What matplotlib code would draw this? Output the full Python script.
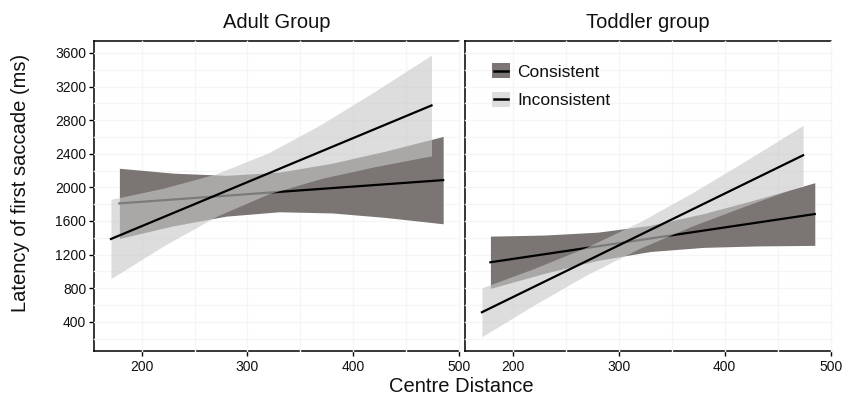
import numpy as np
import matplotlib
matplotlib.use("Agg")
import matplotlib.pyplot as plt
from matplotlib.patches import Patch, Rectangle
from matplotlib.lines import Line2D

plt.rcParams['font.family'] = ['Liberation Sans', 'DejaVu Sans']

# --- data ---
panel_titles = ["Adult Group", "Toddler group"]
series_names = ["Consistent", "Inconsistent"]

# adult, consistent
adult_cons_band_x = [179, 230, 280, 330, 380, 430, 485]
adult_cons_band_hi = [2227, 2169, 2143, 2181, 2287, 2430, 2606]
adult_cons_band_lo = [1391, 1542, 1657, 1709, 1695, 1642, 1566]
adult_cons_line_x = [179, 485]
adult_cons_line_y = [1809, 2086]

# adult, inconsistent
adult_inc_band_x = [171, 220, 270, 320, 370, 420, 474]
adult_inc_band_hi = [1857, 1988, 2159, 2411, 2752, 3139, 3575]
adult_inc_band_lo = [913, 1296, 1651, 1923, 2106, 2245, 2375]
adult_inc_line_x = [171, 474]
adult_inc_line_y = [1385, 2975]

# toddler, consistent
todd_cons_band_x = [179, 230, 280, 330, 380, 430, 485]
todd_cons_band_hi = [1419, 1432, 1466, 1548, 1687, 1856, 2055]
todd_cons_band_lo = [797, 976, 1130, 1236, 1285, 1302, 1309]
todd_cons_line_x = [179, 485]
todd_cons_line_y = [1108, 1682]

# toddler, inconsistent
todd_inc_band_x = [171, 220, 270, 320, 370, 420, 474]
todd_inc_band_hi = [804, 1033, 1289, 1589, 1939, 2317, 2738]
todd_inc_band_lo = [222, 597, 959, 1275, 1543, 1781, 2026]
todd_inc_line_x = [171, 474]
todd_inc_line_y = [513, 2382]

x_ticks = [200, 300, 400, 500]
y_ticks = [400, 800, 1200, 1600, 2000, 2400, 2800, 3200, 3600]

DARK = '#7b7673'
LIGHT = '#c8c8c8'
LIGHT_ALPHA = 0.62
GRID = '#f5f5f5'

panels = [
    (adult_cons_band_x, adult_cons_band_hi, adult_cons_band_lo, adult_cons_line_x, adult_cons_line_y,
     adult_inc_band_x, adult_inc_band_hi, adult_inc_band_lo, adult_inc_line_x, adult_inc_line_y),
    (todd_cons_band_x, todd_cons_band_hi, todd_cons_band_lo, todd_cons_line_x, todd_cons_line_y,
     todd_inc_band_x, todd_inc_band_hi, todd_inc_band_lo, todd_inc_line_x, todd_inc_line_y),
]


class KeyHandler:
    # filled square with a short black dash in the middle, ggplot style
    def legend_artist(self, legend, orig_handle, fontsize, handlebox):
        x0, y0 = -handlebox.xdescent, -handlebox.ydescent
        w, h = handlebox.width, handlebox.height
        rect = Rectangle((x0, y0), w, h, facecolor=orig_handle.get_facecolor(), edgecolor='none',
                         transform=handlebox.get_transform())
        dash = Line2D([x0 + 0.12 * w, x0 + 0.88 * w], [y0 + h / 2, y0 + h / 2], color='black', lw=1.8,
                      transform=handlebox.get_transform())
        handlebox.add_artist(rect)
        handlebox.add_artist(dash)
        return rect


fig = plt.figure(figsize=(8.46, 4.03), dpi=100)
ax_l = fig.add_axes([0.1111, 0.1298, 0.4315, 0.769])
ax_r = fig.add_axes([0.5496, 0.1298, 0.4323, 0.769])

for i, (ax, p) in enumerate(zip([ax_l, ax_r], panels)):
    cbx, cbh, cbl, clx, cly, ibx, ibh, ibl, ilx, ily = p
    ax.fill_between(cbx, cbl, cbh, color=DARK, lw=0, zorder=4)
    ax.plot(clx, cly, color='black', lw=1.6, zorder=5)
    ax.fill_between(ibx, ibl, ibh, color=LIGHT, alpha=LIGHT_ALPHA, lw=0, zorder=6)
    ax.plot(ilx, ily, color='black', lw=1.6, zorder=7)

    ax.set_xlim(155, 500)
    ax.set_ylim(55, 3745)
    ax.set_xticks(x_ticks)
    ax.set_xticklabels([str(v) for v in x_ticks], fontsize=10, color='#111111')
    ax.spines['right'].set_visible(False)
    for s in ['top', 'left', 'bottom']:
        ax.spines[s].set_linewidth(1.1)
        ax.spines[s].set_zorder(2.5)
    ax.tick_params(axis='x', direction='out', length=3.5, width=1.0, pad=3)

    # faint grid, drawn over the frame so it leaves small breaks in it
    for gx in np.arange(200, 501, 50):
        ax.axvline(gx, color=GRID, lw=1.0, zorder=3, clip_on=False)
    for gy in np.arange(200, 3701, 200):
        ax.axhline(gy, color=GRID, lw=1.0, zorder=3, clip_on=False)

    ax.set_title(panel_titles[i], fontsize=14.5, pad=9, color='#111111')

ax_l.set_yticks(y_ticks)
ax_l.set_yticklabels([str(v) for v in y_ticks], fontsize=10, color='#111111')
ax_l.tick_params(axis='y', direction='out', length=3.5, width=1.0, pad=2)
ax_r.set_yticks([])

fig.text(0.545, 0.04, "Centre Distance", fontsize=14.5, ha='center', va='center', color='#111111')
fig.text(0.024, 0.545, "Latency of first saccade (ms)", fontsize=14.5, rotation=90,
         ha='center', va='center', color='#111111')

handles = [Patch(facecolor=DARK), Patch(facecolor='#dddddd')]
leg = ax_r.legend(handles, series_names, handler_map={Patch: KeyHandler()},
                  loc='upper left', bbox_to_anchor=(0.055, 0.95), frameon=False, fontsize=12.5,
                  handlelength=1.05, handleheight=0.95, handletextpad=0.4, labelspacing=0.7,
                  borderaxespad=0)
for t in leg.get_texts():
    t.set_color('#111111')

fig.savefig("out.png", dpi=100)
